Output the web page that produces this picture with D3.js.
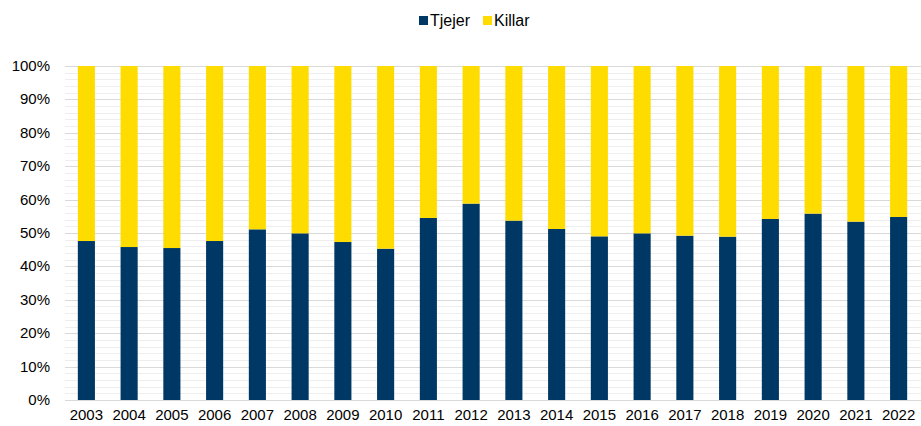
<!DOCTYPE html>
<html>
<head>
<meta charset="utf-8">
<script src="https://cdn.jsdelivr.net/npm/d3@7"></script>
<style>
  body { margin: 0; background: #fff; }
  text { font-family: "Liberation Sans", Arial, sans-serif; }
</style>
</head>
<body>
<script>
var years = ["2003","2004","2005","2006","2007","2008","2009","2010","2011","2012",
             "2013","2014","2015","2016","2017","2018","2019","2020","2021","2022"];
var tjejer = [47.6, 45.8, 45.5, 47.6, 51.1, 49.9, 47.3, 45.3, 54.5, 58.8,
              53.7, 51.2, 49.0, 49.9, 49.2, 48.9, 54.2, 55.8, 53.4, 54.8];
var killar = tjejer.map(function(d) { return 100 - d; });
var seriesNames = ["Tjejer", "Killar"];
var yTicks = [0, 10, 20, 30, 40, 50, 60, 70, 80, 90, 100];

var width = 921, height = 426;
var colorBlue = "#003865";
var colorYellow = "#ffdc00";

var svg = d3.select("body").append("svg")
    .attr("width", width)
    .attr("height", height);

var x = d3.scaleBand()
    .domain(years)
    .range([65, 920])
    .paddingInner(0.6)
    .paddingOuter(0.3);

var y = d3.scaleLinear()
    .domain([0, 100])
    .range([400, 66]);

// minor gridlines every 2%
svg.append("g").selectAll("line")
    .data(d3.range(2, 100, 2).filter(function(d) { return d % 10 != 0; }))
    .enter().append("line")
    .attr("x1", 65).attr("x2", 921)
    .attr("y1", function(d) { return Math.round(y(d)) + 0.5; })
    .attr("y2", function(d) { return Math.round(y(d)) + 0.5; })
    .attr("stroke", "#eeeeee")
    .attr("stroke-width", 1);

// major gridlines
svg.append("g").selectAll("line")
    .data(yTicks)
    .enter().append("line")
    .attr("x1", 65).attr("x2", 921)
    .attr("y1", function(d) { return Math.round(y(d)) + 0.5; })
    .attr("y2", function(d) { return Math.round(y(d)) + 0.5; })
    .attr("stroke", "#d9d9d9")
    .attr("stroke-width", 1);

// stacked bars
var rows = years.map(function(yr, i) { return { year: yr, Tjejer: tjejer[i], Killar: killar[i] }; });
var stack = d3.stack().keys(seriesNames)(rows);
var colors = { Tjejer: colorBlue, Killar: colorYellow };

svg.append("g").selectAll("g")
    .data(stack)
    .enter().append("g")
    .attr("fill", function(d) { return colors[d.key]; })
    .selectAll("rect")
    .data(function(d) { return d; })
    .enter().append("rect")
    .attr("x", function(d) { return x(d.data.year); })
    .attr("width", x.bandwidth())
    .attr("y", function(d) { return y(d[1]); })
    .attr("height", function(d) { return y(d[0]) - y(d[1]); });

// y axis labels
svg.append("g").selectAll("text")
    .data(yTicks)
    .enter().append("text")
    .attr("x", 50)
    .attr("y", function(d) { return y(d) + 5; })
    .attr("text-anchor", "end")
    .style("font-size", "15px")
    .style("fill", "#000")
    .text(function(d) { return d + "%"; });

// x axis labels
svg.append("g").selectAll("text")
    .data(years)
    .enter().append("text")
    .attr("x", function(d) { return x(d) + x.bandwidth() / 2; })
    .attr("y", 420)
    .attr("text-anchor", "middle")
    .style("font-size", "15px")
    .style("fill", "#000")
    .text(function(d) { return d; });

// legend
var legendX = [419, 483];
var legend = svg.append("g").selectAll("g")
    .data(seriesNames)
    .enter().append("g")
    .attr("transform", function(d, i) { return "translate(" + legendX[i] + ",0)"; });
legend.append("rect")
    .attr("x", 0).attr("y", 16)
    .attr("width", 9).attr("height", 9)
    .attr("fill", function(d) { return colors[d]; });
legend.append("text")
    .attr("x", 11).attr("y", 25.5)
    .style("font-size", "16px")
    .style("fill", "#000")
    .text(function(d) { return d; });
</script>
</body>
</html>
